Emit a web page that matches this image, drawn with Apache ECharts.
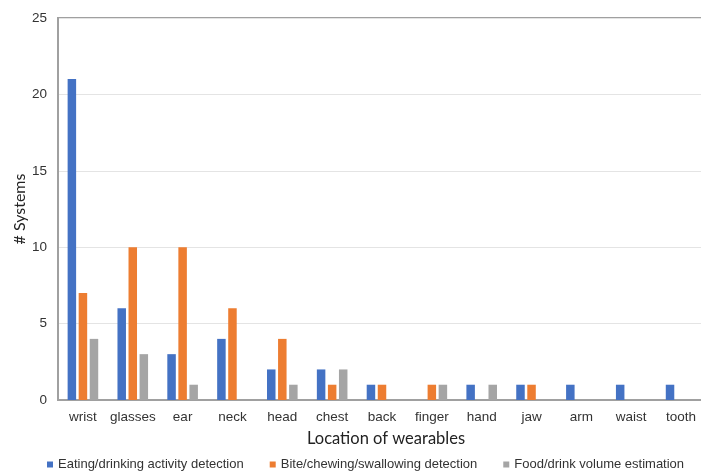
<!DOCTYPE html>
<html>
<head>
<meta charset="utf-8">
<script src="https://cdn.jsdelivr.net/npm/echarts@6/dist/echarts.min.js"></script>
<style>html,body{margin:0;padding:0;background:#fff}#c{width:701px;height:472px}</style>
</head>
<body>
<div id="c"></div>
<script>
const categories = ['wrist','glasses','ear','neck','head','chest','back','finger','hand','jaw','arm','waist','tooth'];
const eating = [21,6,3,4,2,2,1,0,1,1,1,1,1];
const bite = [7,10,10,6,4,1,1,1,0,1,0,0,0];
const volume = [4,3,1,0,1,2,0,1,1,0,0,0,0];
const seriesNames = ['Eating/drinking activity detection','Bite/chewing/swallowing detection','Food/drink volume estimation'];
const colors = ['#4472C4','#ED7D31','#A5A5A5'];

const chart = echarts.init(document.getElementById('c'), null, {renderer:'canvas'});
const mk = (name, data, color) => ({
  name, type:'bar', data, barWidth: 8.5, barGap: '30%',
  itemStyle:{color}
});
chart.setOption({
  animation:false,
  textStyle:{fontFamily:'Liberation Sans'},
  grid:{left:58, width:648, top:18, bottom:72, show:true, borderColor:'#a0a0a0', borderWidth:2, outerBoundsMode:'none', containLabel:false},
  legend:{
    top:458, left:47, width:700, itemWidth:6, itemHeight:6, itemGap:26, padding:0,
    icon:'rect',
    textStyle:{fontSize:13, color:'#333', fontFamily:'Liberation Sans'},
    data: seriesNames
  },
  xAxis:{
    type:'category', data:categories,
    axisLine:{lineStyle:{color:'#a0a0a0', width:2}},
    axisTick:{show:false},
    axisLabel:{fontSize:13.5, color:'#333', margin:10, interval:0},
    name:'Location of wearables', nameLocation:'middle', nameGap:30,
    nameTextStyle:{fontSize:16.5, color:'#222', fontFamily:'Lato', padding:[0,0,0,8]}
  },
  yAxis:{
    type:'value', min:0, max:25, interval:5,
    axisLine:{show:true, lineStyle:{color:'#a0a0a0', width:2}},
    axisLabel:{fontSize:13.5, color:'#333', margin:11},
    splitLine:{lineStyle:{color:'#e4e4e4'}},
    name:'# Systems', nameLocation:'middle', nameGap:30, nameMoveOverlap:false,
    nameTextStyle:{fontSize:16, color:'#222', fontFamily:'Lato'}
  },
  series:[
    mk(seriesNames[0], eating, colors[0]),
    mk(seriesNames[1], bite, colors[1]),
    mk(seriesNames[2], volume, colors[2])
  ]
});
</script>
</body>
</html>
